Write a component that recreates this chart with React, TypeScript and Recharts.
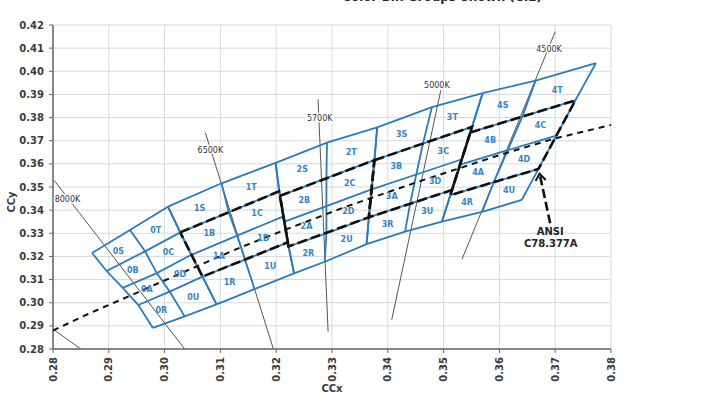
import { ScatterChart, Scatter, XAxis, YAxis, CartesianGrid } from "recharts";

const xTicks = [0.28, 0.29, 0.3, 0.31, 0.32, 0.33, 0.34, 0.35, 0.36, 0.37, 0.38];
const yTicks = [0.28, 0.29, 0.3, 0.31, 0.32, 0.33, 0.34, 0.35, 0.36, 0.37, 0.38, 0.39, 0.4, 0.41, 0.42];

// bin groups: rows top -> bottom (top edge, S|B, B|A, A|R, bottom edge), cols left / mid / right
const group0 = [
  [[0.2870, 0.3215], [0.2938, 0.3314], [0.3006, 0.3415]],
  [[0.2896, 0.3137], [0.2965, 0.3222], [0.3028, 0.3304]],
  [[0.2925, 0.3064], [0.2986, 0.3128], [0.3048, 0.3207]],
  [[0.2953, 0.2990], [0.3009, 0.3048], [0.3068, 0.3113]],
  [[0.2979, 0.2891], [0.3036, 0.2941], [0.3093, 0.2993]],
];
const group1 = [
  [[0.3006, 0.3415], [0.3102, 0.3516], [0.3199, 0.3604]],
  [[0.3028, 0.3304], [0.3115, 0.3391], [0.3205, 0.3481]],
  [[0.3048, 0.3207], [0.3130, 0.3290], [0.3213, 0.3373]],
  [[0.3068, 0.3113], [0.3144, 0.3186], [0.3221, 0.3261]],
  [[0.3093, 0.2993], [0.3161, 0.3059], [0.3232, 0.3127]],
];
const group2 = [
  [[0.3199, 0.3604], [0.3291, 0.3692], [0.3381, 0.3758]],
  [[0.3207, 0.3462], [0.3290, 0.3538], [0.3376, 0.3616]],
  [[0.3215, 0.3350], [0.3290, 0.3417], [0.3371, 0.3490]],
  [[0.3222, 0.3243], [0.3290, 0.3300], [0.3366, 0.3369]],
  [[0.3232, 0.3127], [0.3287, 0.3177], [0.3362, 0.3253]],
];
const group3 = [
  [[0.3381, 0.3758], [0.3479, 0.3845], [0.3570, 0.3906]],
  [[0.3376, 0.3616], [0.3463, 0.3687], [0.3551, 0.3760]],
  [[0.3371, 0.3490], [0.3451, 0.3554], [0.3533, 0.3620]],
  [[0.3366, 0.3369], [0.3440, 0.3428], [0.3515, 0.3487]],
  [[0.3362, 0.3253], [0.3431, 0.3307], [0.3497, 0.3350]],
];
const group4 = [
  [[0.3570, 0.3906], [0.3665, 0.3960], [0.3773, 0.4035]],
  [[0.3548, 0.3736], [0.3641, 0.3804], [0.3736, 0.3874]],
  [[0.3530, 0.3597], [0.3615, 0.3659], [0.3702, 0.3722]],
  [[0.3512, 0.3465], [0.3590, 0.3521], [0.3670, 0.3578]],
  [[0.3497, 0.3350], [0.3569, 0.3393], [0.3640, 0.3444]],
];
const groups = [group0, group1, group2, group3, group4];
const cellLetters = [["S", "T"], ["B", "C"], ["A", "D"], ["R", "U"]];

// blackbody locus
const planckX = [0.2800, 0.2860, 0.2952, 0.3064, 0.3135, 0.3221, 0.3324, 0.3451, 0.3608, 0.3700, 0.3800];
const planckY = [0.2880, 0.2948, 0.3045, 0.3164, 0.3238, 0.3320, 0.3414, 0.3520, 0.3644, 0.3710, 0.3768];

// isotherm lines
const isoNames = ["8000K", "6500K", "5700K", "5000K", "4500K"];
const isoTop = [[0.2802, 0.3529], [0.3073, 0.3735], [0.3275, 0.3879], [0.3495, 0.3918], [0.3700, 0.4171]];
const isoBottom = [[0.3036, 0.2800], [0.3195, 0.2800], [0.3293, 0.2875], [0.3407, 0.2926], [0.3533, 0.3188]];
const isoLabelAt = [[0.2803, 0.3448], [0.3082, 0.3658], [0.3278, 0.3796], [0.3488, 0.3937], [0.3689, 0.4092]];
const coolTail = [[0.2800, 0.2886], [0.2850, 0.2800]];

// ANSI C78.377A pointer
const arrowShaft = [[0.3691, 0.3343], [0.3672, 0.3558]];
const arrowHead = [[0.3665, 0.3526], [0.3672, 0.3558], [0.3683, 0.3530]];
const noteLines = ["ANSI", "C78.377A"];
const noteAt = [[0.3691, 0.3307], [0.3692, 0.3256]];

const BLUE = "#2b7bbd";
const pts = (arr: number[][]) => arr.map(([x, y]) => ({ x, y }));

const meshLines = groups.flatMap((g, gi) => [
  ...g.map((row, ri) => ({ key: `r${gi}-${ri}`, data: pts(row) })),
  ...[0, 1, 2].map((c) => ({ key: `c${gi}-${c}`, data: pts(g.map((row) => row[c])) })),
]);

const ansiQuads = groups.slice(1).map((g, i) => ({
  key: `q${i}`,
  data: pts([g[1][0], g[1][2], g[3][2], g[3][0], g[1][0]]),
}));

const binLabels = groups.flatMap((g, gi) =>
  cellLetters.flatMap((letters, ri) =>
    letters.map((letter, ci) => {
      const v = [g[ri][ci], g[ri][ci + 1], g[ri + 1][ci], g[ri + 1][ci + 1]];
      return {
        x: v.reduce((s, p) => s + p[0], 0) / 4,
        y: v.reduce((s, p) => s + p[1], 0) / 4,
        name: `${gi}${letter}`,
      };
    })
  )
);

const isoLabels = isoNames.map((name, i) => ({ x: isoLabelAt[i][0], y: isoLabelAt[i][1], name, first: i === 0 }));
const notes = noteLines.map((name, i) => ({ x: noteAt[i][0], y: noteAt[i][1], name }));

const noDot = () => <g />;

const XTick = (props: any) => {
  const { x, y, payload } = props;
  return (
    <text x={x} y={y} transform={`rotate(-90 ${x} ${y})`} textAnchor="end" dy="0.35em"
      fontSize={10} fontWeight="bold" fill="#3a3a3a">
      {Number(payload.value).toFixed(2)}
    </text>
  );
};

export default function App() {
  return (
    <div style={{ position: "absolute", left: 0, top: 0, width: 709, height: 395, overflow: "hidden", fontFamily: "'DejaVu Sans', sans-serif", background: "#fff" }}>
      <div style={{ position: "absolute", left: 292, top: -10, width: 300, textAlign: "center", fontSize: 12, fontWeight: "bold", color: "#222", whiteSpace: "nowrap" }}>
        Color Bin Groups Shown (CIE)
      </div>
      <ScatterChart width={709} height={395} margin={{ top: 25, right: 98, bottom: 0, left: 0 }}>
        <CartesianGrid stroke="#d9d9d9" />
        <XAxis type="number" dataKey="x" domain={[0.28, 0.38]} ticks={xTicks} interval={0} allowDataOverflow
          height={46} tickSize={4} tickMargin={4} tick={<XTick />}
          axisLine={{ stroke: "#666", strokeWidth: 1.5 }} tickLine={{ stroke: "#666" }}
          label={{ value: "CCx", position: "insideBottom", offset: 3, style: { fontSize: 10, fontWeight: "bold", fill: "#3a3a3a" } }} />
        <YAxis type="number" dataKey="y" domain={[0.28, 0.42]} ticks={yTicks} interval={0} allowDataOverflow
          width={53} tickSize={4} tickMargin={5}
          tickFormatter={(v: number) => v.toFixed(2)}
          tick={{ fontSize: 10, fontWeight: "bold", fill: "#3a3a3a" }}
          axisLine={{ stroke: "#666", strokeWidth: 1.5 }} tickLine={{ stroke: "#666" }}
          label={{
            content: () => (
              <text x={11} y={202} transform="rotate(-90 11 202)" textAnchor="middle" dominantBaseline="central"
                fontSize={10} fontWeight="bold" fill="#3a3a3a">CCy</text>
            ),
          }} />

        {isoNames.map((n, i) => (
          <Scatter key={n} data={pts([isoTop[i], isoBottom[i]])} line={{ stroke: "#555", strokeWidth: 1 }}
            shape={noDot} isAnimationActive={false} />
        ))}
        <Scatter data={pts(coolTail)} line={{ stroke: "#555", strokeWidth: 1 }} shape={noDot} isAnimationActive={false} />

        {meshLines.map((l) => (
          <Scatter key={l.key} data={l.data} line={{ stroke: BLUE, strokeWidth: 1.8 }} shape={noDot} isAnimationActive={false} />
        ))}

        <Scatter data={planckX.map((x, i) => ({ x, y: planckY[i] }))}
          line={{ stroke: "#111", strokeWidth: 2, strokeDasharray: "6 5" }} shape={noDot} isAnimationActive={false} />

        {ansiQuads.map((q) => (
          <Scatter key={q.key} data={q.data} line={{ stroke: "#111", strokeWidth: 2.6, strokeDasharray: "10 4" }}
            shape={noDot} isAnimationActive={false} />
        ))}

        <Scatter data={pts(arrowShaft)} line={{ stroke: "#111", strokeWidth: 2.6, strokeDasharray: "9 4" }} shape={noDot} isAnimationActive={false} />
        <Scatter data={pts(arrowHead)} line={{ stroke: "#111", strokeWidth: 2 }} shape={noDot} isAnimationActive={false} />

        <Scatter data={binLabels} isAnimationActive={false}
          shape={(p: any) => (
            <text x={p.cx} y={p.cy} textAnchor="middle" dominantBaseline="central" fontSize={8} fontWeight="bold" fill="#3585c6">
              {p.payload.name}
            </text>
          )} />
        <Scatter data={isoLabels} isAnimationActive={false}
          shape={(p: any) => (
            <text x={p.cx} y={p.cy} textAnchor={p.payload.first ? "start" : "middle"} dominantBaseline="central"
              fontSize={8} fill="#333" stroke="#fff" strokeWidth={3} paintOrder="stroke">
              {p.payload.name}
            </text>
          )} />
        <Scatter data={notes} isAnimationActive={false}
          shape={(p: any) => (
            <text x={p.cx} y={p.cy} textAnchor="middle" dominantBaseline="central" fontSize={10} fontWeight="bold" fill="#222">
              {p.payload.name}
            </text>
          )} />
      </ScatterChart>
    </div>
  );
}
